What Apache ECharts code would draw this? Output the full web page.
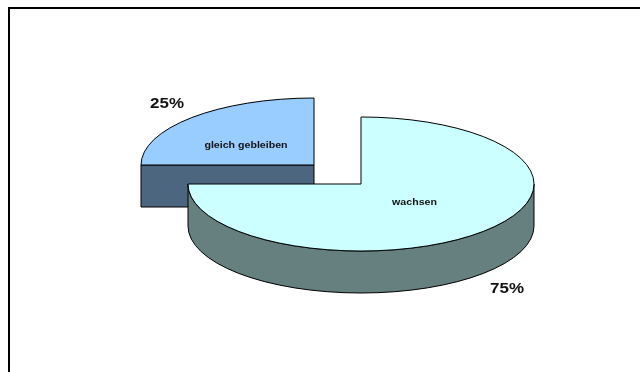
<!DOCTYPE html>
<html><head><meta charset="utf-8">
<style>html,body{margin:0;padding:0;background:#fff}#c{width:640px;height:372px}</style>
<script src="https://cdn.jsdelivr.net/npm/echarts@6/dist/echarts.min.js"></script>
</head><body><div id="c"></div>
<script>
const categories = ['wachsen', 'gleich gebleiben'];
const values = [75, 25];
const percentLabels = ['75%', '25%'];
const topColors = ['#CCFFFF', '#99CCFF'];
const sideColors = ['#667F7F', '#4D6680'];
const centers = [[361, 184], [314, 165]];
const nameOffsets = [[53.5, 19], [-68, -19]];
const percentOffsets = [[146, 105], [-147, -61.5]];
const RX = 173, RY = 67, DEPTH = 42;

const total = values.reduce((a, b) => a + b, 0);
const chart = echarts.init(document.getElementById('c'), null, {renderer: 'canvas'});

function pt(c, deg) {
  const t = deg * Math.PI / 180;
  return [c[0] + RX * Math.sin(t), c[1] - RY * Math.cos(t)];
}
function label(text, x, y, size, stretch) {
  return {type: 'text', x, y, scaleX: stretch, style: {
    text, x: 0, y: 0, align: 'center', verticalAlign: 'middle', fill: '#111',
    font: 'bold ' + size + 'px "Liberation Sans", Arial, sans-serif'}};
}
function renderItem(params, api) {
  const i = api.value(0);
  let cum = 0;
  for (let k = 0; k < i; k++) cum += values[k];
  const a0 = cum / total * 360, a1 = (cum + api.value(1)) / total * 360;
  const c = centers[i];
  const large = a1 - a0 > 180 ? 1 : 0;
  const s = pt(c, a0), e = pt(c, a1);
  const top = `M${c[0]} ${c[1]}L${s[0]} ${s[1]}A${RX} ${RY} 0 ${large} 1 ${e[0]} ${e[1]}Z`;
  // side wall: outer rim for the large slice, cut face for the small slice
  let side;
  if (a0 <= 90 && a1 >= 270) {
    const r = pt(c, 90), l = pt(c, 270);
    side = `M${r[0]} ${r[1]}A${RX} ${RY} 0 0 1 ${l[0]} ${l[1]}L${l[0]} ${l[1] + DEPTH}A${RX} ${RY} 0 0 0 ${r[0]} ${r[1] + DEPTH}Z`;
  } else {
    side = `M${s[0]} ${s[1]}L${c[0]} ${c[1]}L${c[0]} ${c[1] + DEPTH}L${s[0]} ${s[1] + DEPTH}Z`;
  }
  return {type: 'group', children: [
    {type: 'path', shape: {pathData: side}, style: {fill: sideColors[i], stroke: '#000', lineWidth: 1}},
    {type: 'path', shape: {pathData: top}, style: {fill: topColors[i], stroke: '#000', lineWidth: 1}},
    label(categories[i], c[0] + nameOffsets[i][0], c[1] + nameOffsets[i][1], 9, 1.18),
    label(percentLabels[i], c[0] + percentOffsets[i][0], c[1] + percentOffsets[i][1], 15, 1.13)
  ]};
}
chart.setOption({
  animation: false,
  backgroundColor: '#fff',
  graphic: [
    {type: 'line', silent: true, shape: {x1: 8, y1: 8, x2: 640, y2: 8}, style: {stroke: '#000', lineWidth: 2}},
    {type: 'line', silent: true, shape: {x1: 9, y1: 7, x2: 9, y2: 372}, style: {stroke: '#000', lineWidth: 2}}
  ],
  series: [{
    type: 'custom', coordinateSystem: 'none', renderItem,
    encode: {value: [1]},
    // small slice is drawn first so the large slice overlaps it
    data: [[1, values[1]], [0, values[0]]]
  }]
});
</script></body></html>
